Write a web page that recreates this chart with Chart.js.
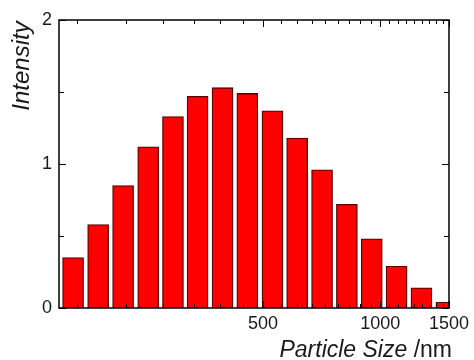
<!DOCTYPE html>
<html>
<head>
<meta charset="utf-8">
<script src="https://cdn.jsdelivr.net/npm/chart.js@4/dist/chart.umd.min.js"></script>
<style>
  html,body{ margin:0; padding:0; background:#fff; }
  #wrap{ width:474px; height:360px; }
</style>
</head>
<body>
<div id="wrap"><canvas id="c"></canvas></div>
<script>
// ── data ──────────────────────────────────────────────────────────────────
const sizes     = [163, 189, 219, 254, 294, 340, 394, 456, 529, 612, 709, 821, 951, 1101, 1275, 1477];
const intensity = [0.35, 0.58, 0.85, 1.12, 1.33, 1.47, 1.53, 1.49, 1.37, 1.18, 0.96, 0.72, 0.48, 0.29, 0.14, 0.04];
const xTicks    = [500, 1000, 1500];
const yTicks    = [0, 1, 2];

const FONT = "'Liberation Sans', Arial, sans-serif";
const INK = "#1a1a1a";

// inside ticks on all four sides + frame + axis titles
const frame = {
  id:"frame",
  afterDraw(chart){
    const { ctx, chartArea:a, scales:{ x, y } } = chart;
    ctx.save();
    ctx.strokeStyle = "#000";
    ctx.lineWidth = 1;
    ctx.beginPath();
    // x minor ticks: 8 between majors (step 500/9)
    const step = 500/9;
    for(let k=1; k*step<=1500+0.01; k++){
      const v = k*step;
      if(v < 150) continue;
      const px = Math.round(x.getPixelForValue(v)) + 0.5;
      const major = xTicks.some(t=>Math.abs(t-v)<0.01);
      const len = major ? 7 : 4;
      ctx.moveTo(px, a.bottom); ctx.lineTo(px, a.bottom-len);
      ctx.moveTo(px, a.top); ctx.lineTo(px, a.top+len);
    }
    for(let v=0; v<=2; v+=0.5){
      const py = Math.round(y.getPixelForValue(v)) + 0.5;
      const len = (v%1===0) ? 7 : 5;
      ctx.moveTo(a.left, py); ctx.lineTo(a.left+len, py);
      ctx.moveTo(a.right, py); ctx.lineTo(a.right-len, py);
    }
    ctx.stroke();
    ctx.lineWidth = 1.5;
    ctx.strokeRect(a.left, a.top, a.right-a.left, a.bottom-a.top);

    // titles
    ctx.fillStyle = INK;
    ctx.textBaseline = "alphabetic";
    const it = "Particle Size ";
    ctx.font = `23px ${FONT}`;
    const wn = ctx.measureText("/nm").width;
    ctx.font = `italic 23px ${FONT}`;
    const wi = ctx.measureText(it).width;
    const xr = 452, yb = 357;
    ctx.textAlign = "left";
    ctx.fillText(it, xr - wn - wi, yb);
    ctx.font = `23px ${FONT}`;
    ctx.fillText("/nm", xr - wn, yb);

    ctx.translate(29, 66);
    ctx.rotate(-Math.PI/2);
    ctx.font = `italic 24px ${FONT}`;
    ctx.textAlign = "center";
    ctx.fillText("Intensity", 0, 0);
    ctx.restore();
  }
};

new Chart(document.getElementById("c"), {
  type:"bar",
  data:{ datasets:[{
    data: sizes.map((s,i)=>({ x:s, y:intensity[i] })),
    backgroundColor:"#ff0000",
    borderColor:"#5a0000",
    borderWidth:1.3,
    barThickness:21,
  }]},
  options:{
    responsive:true, maintainAspectRatio:false, animation:false,
    layout:{ padding:{ left:0, top:20, right:23, bottom:0 } },
    plugins:{ legend:{ display:false }, tooltip:{ enabled:false } },
    scales:{
      x:{ type:"logarithmic", min:150, max:1500, offset:false,
          grid:{ display:false, drawTicks:false },
          border:{ display:false },
          afterBuildTicks:s=>{ s.ticks = xTicks.map(v=>({ value:v })); },
          afterFit:s=>{ s.height = 52; },
          ticks:{ autoSkip:false, maxRotation:0, padding:5, color:INK,
                  font:{ family:FONT, size:18 }, callback:v=>String(v) } },
      y:{ min:0, max:2,
          grid:{ display:false, drawTicks:false },
          border:{ display:false },
          afterBuildTicks:s=>{ s.ticks = yTicks.map(v=>({ value:v })); },
          afterFit:s=>{ s.width = 59; },
          ticks:{ padding:7, color:INK, font:{ family:FONT, size:18 } } },
    },
  },
  plugins:[frame],
});
</script>
</body>
</html>
